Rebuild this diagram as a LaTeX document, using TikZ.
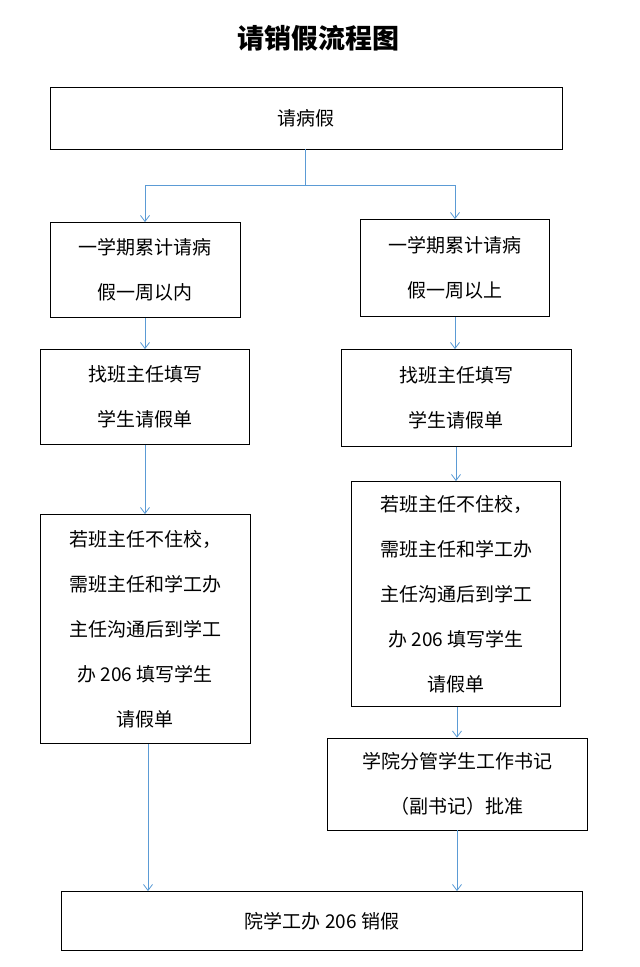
\documentclass[tikz,border=0pt]{standalone}
\usepackage{fontspec}
\setmainfont{Noto Sans CJK SC}
\usetikzlibrary{arrows.meta}
\definecolor{linkblue}{RGB}{91,155,213}
\tikzstyle{box} = [rectangle, draw=black, thick, text centered, align=center, inner sep=0pt, font=\fontsize{19}{45}\selectfont]
\tikzstyle{arrow} = [draw=linkblue, thick, -{Straight Barb[length=6pt,width=9pt]}]
\begin{document}
\begin{tikzpicture}[x=1pt,y=-1pt]
    \useasboundingbox (0,0) rectangle (640,967);
    \node (title) at (318,38) {\fontsize{27}{30}\selectfont\bfseries 请销假流程图};
    \node (sick) [box, minimum width=512, minimum height=62] at (306,118) {请病假};
    \node (lessweek) [box, minimum width=190, minimum height=95] at (145,270) {一学期累计请病\\假一周以内};
    \node (moreweek) [box, minimum width=189, minimum height=97] at (455,268) {一学期累计请病\\假一周以上};
    \node (formL) [box, minimum width=209, minimum height=95] at (145,397) {找班主任填写\\学生请假单};
    \node (formR) [box, minimum width=230, minimum height=97] at (456,398) {找班主任填写\\学生请假单};
    \node (awayL) [box, minimum width=210, minimum height=229] at (145,629) {若班主任不住校，\\需班主任和学工办\\主任沟通后到学工\\办 206 填写学生\\请假单};
    \node (awayR) [box, minimum width=209, minimum height=225] at (456,594) {若班主任不住校，\\需班主任和学工办\\主任沟通后到学工\\办 206 填写学生\\请假单};
    \node (approve) [box, minimum width=260, minimum height=92] at (457,784) {学院分管学生工作书记\\（副书记）批准};
    \node (cancel) [box, minimum width=521, minimum height=59] at (322,921) {院学工办 206 销假};

    % split under the first box
    \coordinate (split) at (305,185);
    \draw [draw=linkblue, thick] (sick.south -| split) -- (split);
    \draw [arrow] (split) -| (lessweek.north);
    \draw [arrow] (split) -| (moreweek.north);
    \draw [arrow] (lessweek) -- (formL);
    \draw [arrow] (formL.south -| awayL.north) -- (awayL.north);
    \draw [arrow] ([xshift=3pt]awayL.south) -- ([xshift=3pt]awayL.south |- cancel.north);
    \draw [arrow] (moreweek.south) -- (moreweek.south |- formR.north);
    \draw [arrow] (formR.south -| awayR.north) -- (awayR.north);
    \draw [arrow] ([xshift=1pt]awayR.south) -- ([xshift=1pt]awayR.south |- approve.north);
    \draw [arrow] (approve) -- (approve.south |- cancel.north);
\end{tikzpicture}
\end{document}
